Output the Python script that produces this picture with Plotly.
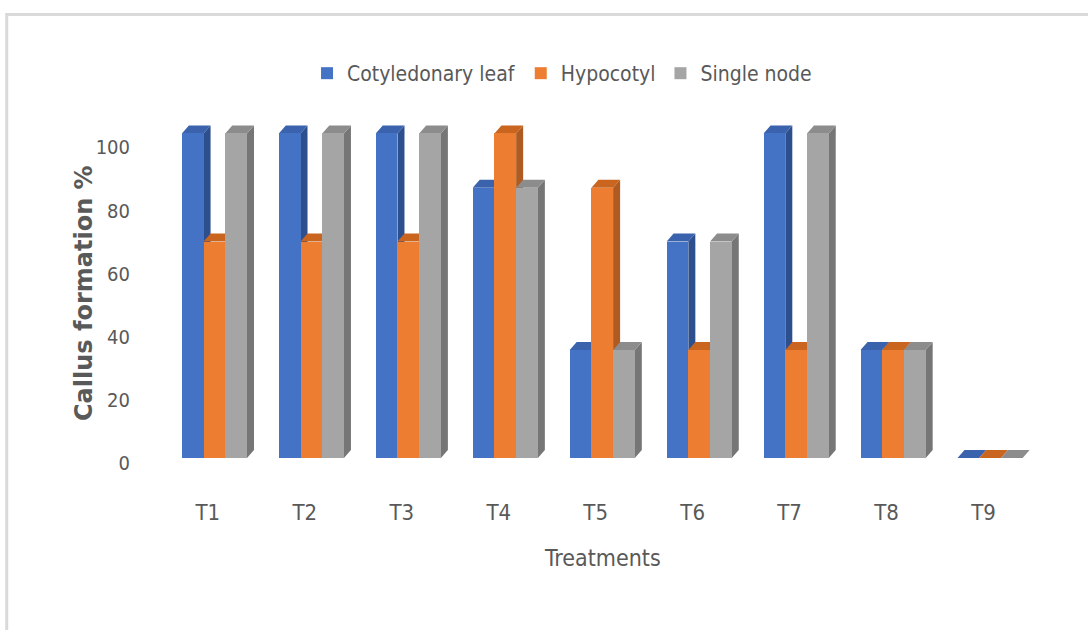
import plotly.graph_objects as go

# ---------------- data ----------------
treatments = ["T1", "T2", "T3", "T4", "T5", "T6", "T7", "T8", "T9"]
cotyledonary_leaf = [100, 100, 100, 83.3, 33.3, 66.7, 100, 33.3, 0]
hypocotyl = [66.7, 66.7, 66.7, 100, 83.3, 33.3, 33.3, 33.3, 0]
single_node = [100, 100, 100, 83.3, 33.3, 66.7, 100, 33.3, 0]
y_ticks = [0, 20, 40, 60, 80, 100]

series = [
    ("Cotyledonary leaf", cotyledonary_leaf, "#4472C4", "#3A62AD", "#2D4F8E"),
    ("Hypocotyl", hypocotyl, "#ED7D31", "#C9651F", "#AE5A21"),
    ("Single node", single_node, "#A5A5A5", "#8C8C8C", "#767676"),
]

# ---------------- geometry (pixels) ----------------
W, H = 1088, 630
L, R, T, B = 140.2, 1031.7, 100.5, 470.0
ppx = 96.9            # px per category
ppy = 3.25            # px per % for bars
zero_px = 458.0       # pixel row of bar baseline
tick_zero_px, tick_ppy = 463.0, 3.16
x_range = [-0.7, (R - L) / ppx - 0.7]
y_range = [-(B - zero_px) / ppy, (zero_px - T) / ppy]
y2_range = [(tick_zero_px - B) / tick_ppy, (tick_zero_px - T) / tick_ppy]

bar_w = 21.7 / ppx
offsets = [(182 - 208) / ppx, (182 - 208) / ppx + bar_w, (182 - 208) / ppx + 2 * bar_w]
dx = 7 / ppx
dy = 8 / ppy


def px(x):
    return (x - L) / (R - L)


def py(y):
    return (B - y) / (B - T)


FONT = "Liberation Sans Narrow, DejaVu Sans Condensed, Roboto, sans-serif"
GREY = "#595959"

fig = go.Figure()
xs = list(range(len(treatments)))
shapes = []
for (name, vals, front, top, side), off in zip(series, offsets):
    fig.add_trace(go.Bar(
        x=xs, y=vals, name=name, width=bar_w, offset=off,
        marker=dict(color=front, line=dict(width=0)),
    ))
    for i, v in zip(xs, vals):
        x0 = i + off
        x1 = x0 + bar_w
        shapes.append(dict(
            type="path", xref="x", yref="y", layer="below",
            path=f"M {x1},0 L {x1},{v} L {x1+dx},{v+dy} L {x1+dx},{dy} Z",
            fillcolor=side, line=dict(width=0),
        ))
        shapes.append(dict(
            type="path", xref="x", yref="y", layer="below",
            path=f"M {x0},{v} L {x0+dx},{v+dy} L {x1+dx},{v+dy} L {x1},{v} Z",
            fillcolor=top, line=dict(width=0),
        ))

# invisible trace to carry the tick axis
fig.add_trace(go.Scatter(x=xs, y=[None] * len(xs), yaxis="y2",
                         showlegend=False, hoverinfo="skip", mode="markers"))

# outer frame
shapes.append(dict(
    type="rect", xref="paper", yref="paper", layer="above",
    x0=px(7), x1=px(W + 20), y0=py(H + 20), y1=py(14),
    line=dict(color="#D9D9D9", width=3), fillcolor="rgba(0,0,0,0)",
))

fig.update_layout(
    width=W, height=H,
    margin=dict(l=L, r=W - R, t=T, b=H - B, pad=0, autoexpand=False),
    paper_bgcolor="white", plot_bgcolor="white",
    barmode="overlay", bargap=0,
    showlegend=True,
    legend=dict(orientation="h", x=px(562), xanchor="center", y=py(73), yanchor="middle",
                font=dict(family=FONT, size=21, color=GREY), itemwidth=30,
                bgcolor="rgba(0,0,0,0)"),
    xaxis=dict(range=x_range, tickmode="array", tickvals=xs, ticktext=treatments,
               showgrid=False, zeroline=False, showline=False,
               ticks="outside", ticklen=23, tickcolor="rgba(0,0,0,0)",
               tickfont=dict(family=FONT, size=22, color=GREY), automargin=False),
    yaxis=dict(range=y_range, visible=False, showgrid=False, zeroline=False),
    yaxis2=dict(range=y2_range, overlaying="y", side="left", tickmode="array",
                tickvals=y_ticks, showgrid=False, zeroline=False, showline=False,
                ticks="outside", ticklen=5, tickcolor="rgba(0,0,0,0)",
                tickfont=dict(family=FONT, size=20, color=GREY),
                automargin=False),
    shapes=shapes,
    annotations=[
        dict(text="<b>Callus formation %</b>", xref="paper", yref="paper",
             x=px(84), y=py(293), xanchor="center", yanchor="middle",
             textangle=-90, showarrow=False,
             font=dict(family="DejaVu Sans", size=24, color=GREY)),
        dict(text="Treatments", xref="paper", yref="paper",
             x=px(602), y=py(558), xanchor="center", yanchor="middle",
             showarrow=False, font=dict(family=FONT, size=23, color=GREY)),
    ],
)

fig.write_html("out.html")
